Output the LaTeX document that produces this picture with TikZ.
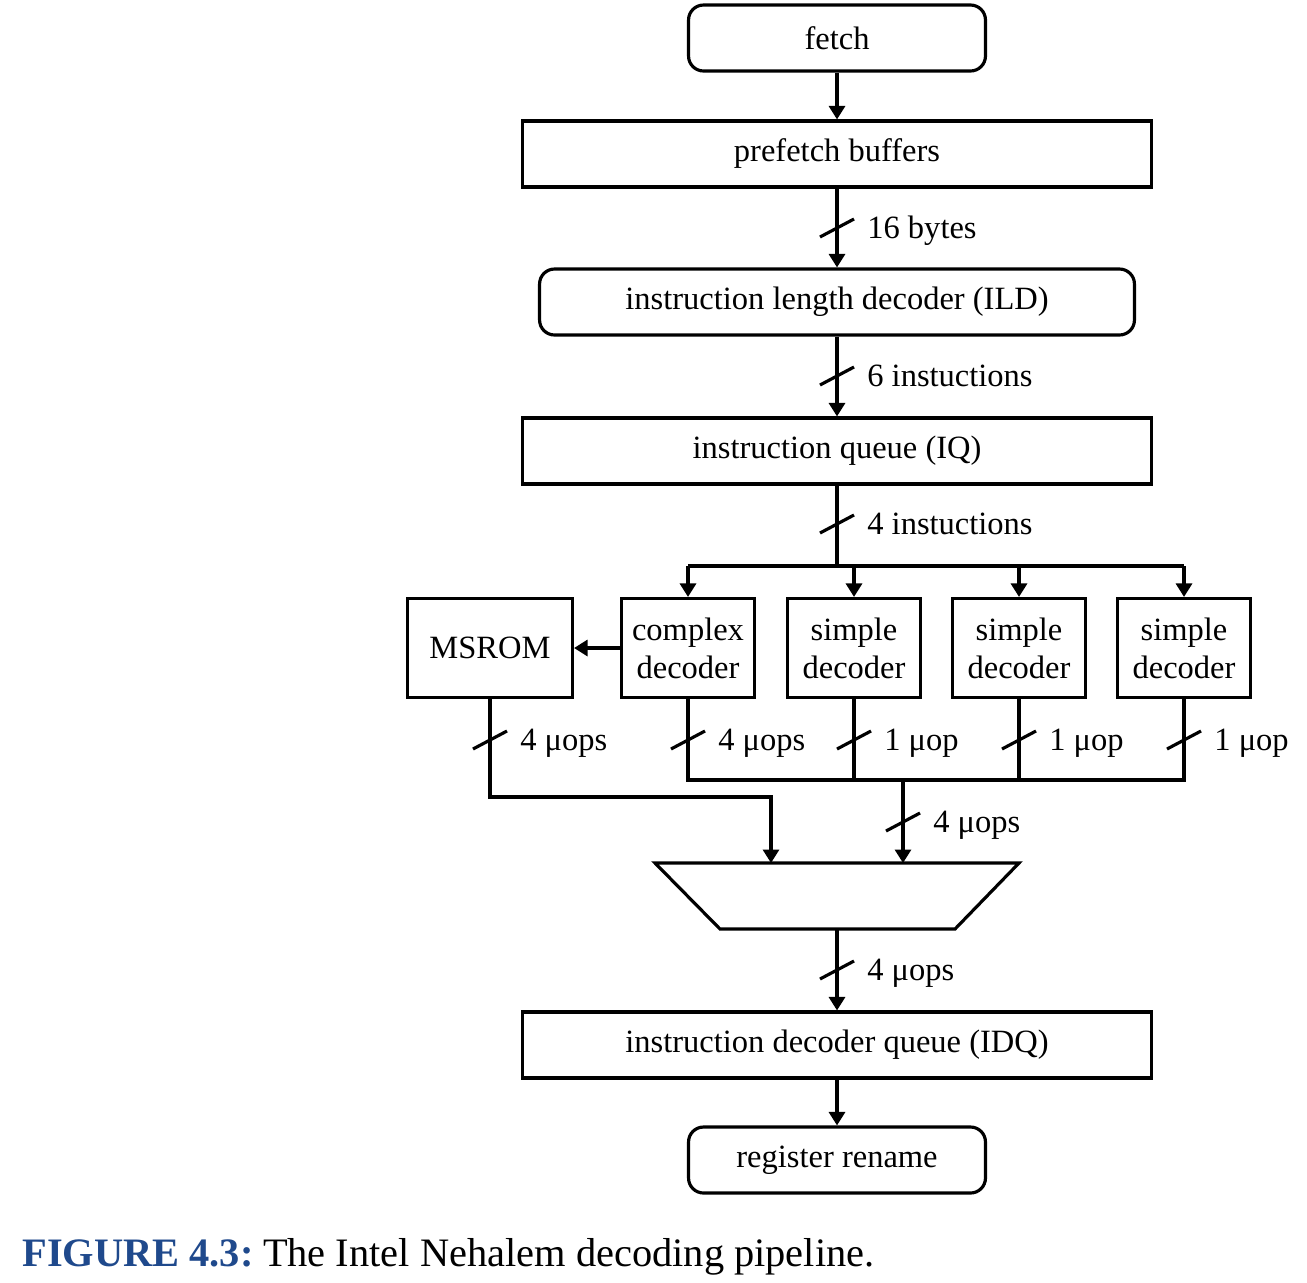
\documentclass[tikz,border=0pt]{standalone}
\usepackage{fontspec}
\setmainfont{Liberation Serif}
\usetikzlibrary{arrows.meta,positioning}
\definecolor{figblue}{RGB}{31,73,140}

\begin{document}
\begin{tikzpicture}[x=0.02cm,y=-0.02cm,
    font=\fontsize{18.5}{21.5}\selectfont,
    every node/.style={inner sep=0pt},
    wire/.style={line width=1.8pt},
    arr/.style={wire,-{Triangle[length=0.27cm,width=0.32cm]}},
    box/.style={draw,line width=1.8pt,minimum height=1.32cm},
    rbox/.style={box,rounded corners=0.3cm},
    dec/.style={draw,line width=1.8pt,minimum width=2.66cm,minimum height=1.98cm,align=center},
    lbl/.style={anchor=base west}]
	\useasboundingbox (0,0) rectangle (1307,1282);

	% pipeline boxes
	\node[rbox,minimum width=5.94cm] (fetch) at (837,38) {fetch};
	\node[box,minimum width=12.58cm] (pfb) at (837,154) {prefetch buffers};
	\node[rbox,minimum width=11.9cm] (ild) at (837,302) {instruction length decoder (ILD)};
	\node[box,minimum width=12.58cm] (iq) at (837,451) {instruction queue (IQ)};
	\node[dec,minimum width=3.3cm] (msrom) at (490,648) {MSROM};
	\node[dec] (cdec) at (688,648) {complex\\decoder};
	\node[dec] (sdec1) at (854,648) {simple\\decoder};
	\node[dec] (sdec2) at (1019,648) {simple\\decoder};
	\node[dec] (sdec3) at (1184,648) {simple\\decoder};
	\node[box,minimum width=12.58cm] (idq) at (837,1045) {instruction decoder queue (IDQ)};
	\node[rbox,minimum width=5.94cm] (rr) at (837,1160) {register rename};

	% mux
	\coordinate (muxtl) at (655,863);
	\coordinate (muxtr) at (1019,863);
	\coordinate (muxbr) at (955,929);
	\coordinate (muxbl) at (720,929);
	\coordinate (muxin1) at (771,863);
	\coordinate (muxin2) at (903,863);
	\coordinate (muxout) at (837,929);
	\draw[wire] (muxtl) -- (muxtr) -- (muxbr) -- (muxbl) -- cycle;

	\coordinate (split) at (837,566);
	\coordinate (merge) at (903,780);
	\coordinate (msbend) at (771,797);

	% connectors
	\draw[arr] (fetch) -- (pfb);
	\draw[arr] (pfb) -- (ild);
	\draw[arr] (ild) -- (iq);
	\draw[wire] (iq) -- (split);
	\draw[wire] (cdec.north |- split) -- (sdec3.north |- split);
	\foreach \d in {cdec,sdec1,sdec2,sdec3}
		\draw[arr] (\d.north |- split) -- (\d);
	\draw[arr] (cdec) -- (msrom);
	\draw[wire] (cdec.south) -- (cdec.south |- merge) -- (sdec3.south |- merge) -- (sdec3.south);
	\draw[wire] (sdec1.south) -- (sdec1.south |- merge);
	\draw[wire] (sdec2.south) -- (sdec2.south |- merge);
	\draw[arr] (merge) -- (muxin2);
	\draw[arr] (msrom.south) |- (msbend) -- (muxin1);
	\draw[arr] (muxout) -- (idq);
	\draw[arr] (idq) -- (rr);

	% bus widths
	\foreach \x/\y/\t [count=\i] in {837/228/16 bytes, 837/376/6 instuctions, 837/524/4 instuctions,
			490/740/4 μops, 688/740/4 μops, 854/740/1 μop, 1019/740/1 μop, 1184/740/1 μop,
			903/822/4 μops, 837/970/4 μops}
	{
		\draw[wire] (\x,\y) ++(-17,9) -- ++(34,-18);
		\node[lbl] (width\i) at (\x+30,\y+10) {\t};
	}

	\node[lbl,font=\fontsize{23}{27}\selectfont] (caption) at (22,1266)
		{\textcolor{figblue}{\bfseries FIGURE 4.3:}\hspace{-0.1em} The Intel Nehalem decoding pipeline.};
\end{tikzpicture}
\end{document}
